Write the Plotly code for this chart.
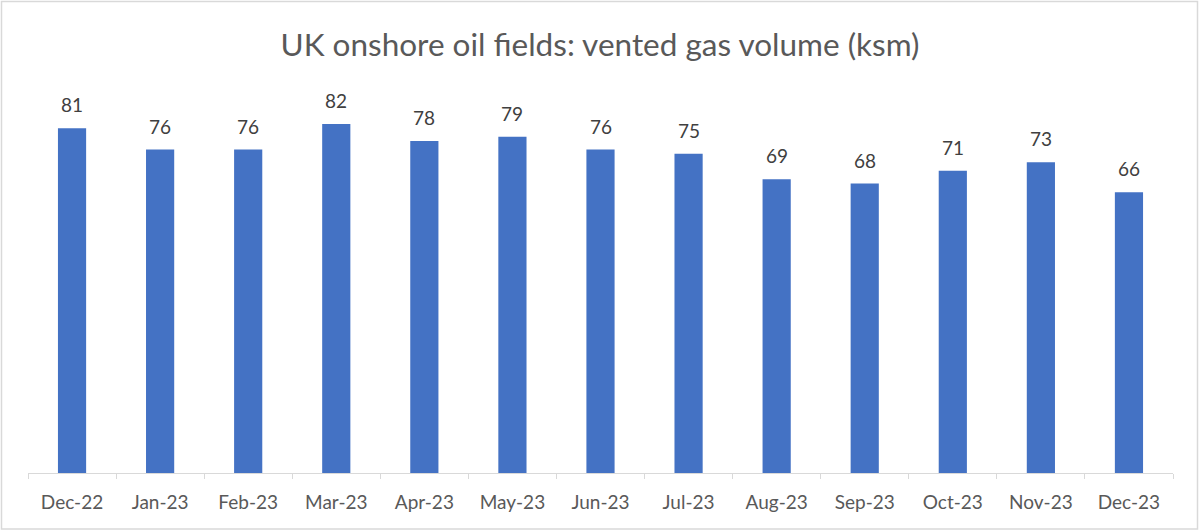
import plotly.graph_objects as go

months = ["Dec-22", "Jan-23", "Feb-23", "Mar-23", "Apr-23", "May-23", "Jun-23",
          "Jul-23", "Aug-23", "Sep-23", "Oct-23", "Nov-23", "Dec-23"]
vented_ksm = [81, 76, 76, 82, 78, 79, 76, 75, 69, 68, 71, 73, 66]

W, H = 1200, 531
L, R, T, B = 28, 27, 90, 58
pw, ph = W - L - R, H - T - B
FONT = "Lato"

fig = go.Figure()
fig.add_trace(go.Bar(
    x=months, y=vented_ksm,
    marker=dict(color="#4472C4", line=dict(width=0)),
    hoverinfo="x+y",
))

for m, v in zip(months, vented_ksm):
    fig.add_annotation(x=m, y=v, text=str(v), showarrow=False,
                       yanchor="bottom", yshift=10,
                       font=dict(family=FONT, size=19, color="#404040"))

# chart border
fig.add_shape(type="rect", xref="paper", yref="paper",
              x0=(1.5 - L) / pw, x1=(W - 2.5 - L) / pw,
              y0=(H - B - 529) / ph, y1=(H - B - 1.5) / ph,
              line=dict(color="#D9D9D9", width=1.5), fillcolor="rgba(0,0,0,0)",
              layer="below")

fig.update_layout(
    width=W, height=H,
    margin=dict(l=L, r=R, t=T, b=B),
    paper_bgcolor="white", plot_bgcolor="white",
    bargap=0.68,
    showlegend=False,
    title=dict(text="UK onshore oil fields: vented gas volume (ksm)",
               x=0.5, xanchor="center", y=1 - 45 / H, yanchor="middle",
               font=dict(family=FONT, size=31.5, color="#595959")),
    xaxis=dict(showline=True, linecolor="#D9D9D9", linewidth=1,
               ticks="outside", tickson="boundaries", ticklen=5,
               tickcolor="#D9D9D9", showgrid=False,
               tickfont=dict(family=FONT, size=19, color="#595959"),
               ticklabelstandoff=12),
    yaxis=dict(range=[0, 90], visible=False, showgrid=False),
)

fig.write_html("out.html", config={"displayModeBar": False},
               post_script="document.body.style.margin='0';")
